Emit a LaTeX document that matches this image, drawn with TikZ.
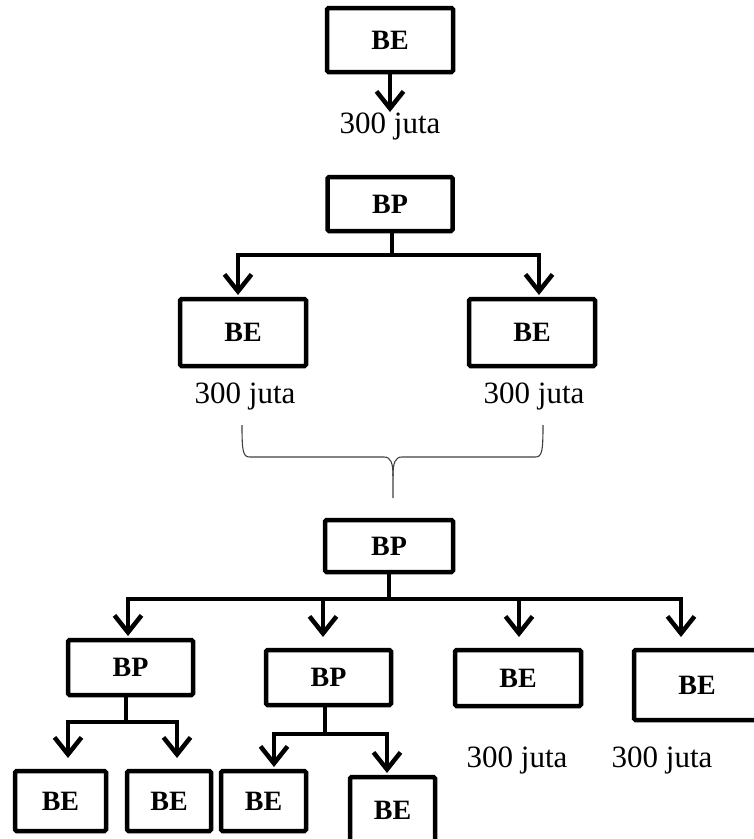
\documentclass[tikz,border=0pt]{standalone}
\usepackage{fontspec}
\setmainfont{Liberation Serif}
\usetikzlibrary{arrows.meta}
\begin{document}
\begin{tikzpicture}[x=1pt,y=-1pt,
  box/.style={draw=black,line width=4.5pt,rounded corners=1.5pt,inner sep=0pt,
    font=\fontsize{28}{30}\selectfont\bfseries},
  conn/.style={draw=black,line width=4.5pt},
  arr/.style={conn,-{Straight Barb[length=17pt,width=27pt]}},
  amount/.style={anchor=base,inner sep=0pt,font=\fontsize{31}{34}\selectfont},
  brace/.style={draw=black!75,line width=1.1pt}]
\useasboundingbox (0,0) rectangle (754,839);
\clip (0,0) rectangle (754,839);
% --- top
\node[box,minimum width=126pt,minimum height=64pt] (be0) at (390,40) {BE};
\coordinate (t0) at (390,112);
\draw[arr] (be0.south) -- (t0);
\node[amount] (a0) at (390,133) {300 juta};
% --- middle
\node[box,minimum width=125pt,minimum height=54pt] (bp1) at (390,204) {BP};
\node[box,minimum width=126pt,minimum height=67pt] (be1) at (243,332.5) {BE};
\node[box,minimum width=126pt,minimum height=67pt] (be2) at (532,332.5) {BE};
\coordinate (j1) at (392,255);
\coordinate (t1) at (238,295);
\coordinate (t2) at (539,295);
\draw[conn] (bp1.south -| j1) -- (j1);
\draw[arr] (j1) -| (t1);
\draw[arr] (j1) -| (t2);
\node[amount] (a1) at (245,403) {300 juta};
\node[amount] (a2) at (534,403) {300 juta};
% --- brace
\draw[brace] (242,425) .. controls (242,452) and (243,457) .. (250,457) -- (384,457)
  .. controls (391,457) and (393,463) .. (393,476) -- (393,498);
\draw[brace] (543,425) .. controls (543,452) and (542,457) .. (535,457) -- (402,457)
  .. controls (395,457) and (393,463) .. (393,476);
% --- bottom
\node[box,minimum width=128pt,minimum height=52pt] (bp2) at (389,546) {BP};
\node[box,minimum width=125pt,minimum height=55pt] (bp3) at (130.5,667.5) {BP};
\node[box,minimum width=125pt,minimum height=55pt] (bp4) at (328.5,677.5) {BP};
\node[box,minimum width=126pt,minimum height=56pt] (be3) at (518,678) {BE};
\node[box,minimum width=126pt,minimum height=70pt] (be4) at (697,685) {BE};
\coordinate (j2) at (389,599);
\coordinate (t3) at (128,636);
\coordinate (t4) at (323,637);
\coordinate (t5) at (519,637);
\coordinate (t6) at (681,637);
\draw[conn] (bp2.south -| j2) -- (j2);
\draw[arr] (j2) -| (t3);
\draw[arr] (j2) -| (t4);
\draw[arr] (j2) -| (t5);
\draw[arr] (j2) -| (t6);
\node[amount] (a3) at (517,767) {300 juta};
\node[amount] (a4) at (662,767) {300 juta};
% --- lowest row
\node[box,minimum width=91pt,minimum height=60pt] (be5) at (60.5,801) {BE};
\node[box,minimum width=84pt,minimum height=60pt] (be6) at (169,801) {BE};
\node[box,minimum width=85pt,minimum height=60pt] (be7) at (263.5,801) {BE};
\node[box,minimum width=85pt,minimum height=66pt] (be8) at (392.5,810) {BE};
\coordinate (j3) at (126,722);
\coordinate (t7) at (68,758);
\coordinate (t8) at (177,758);
\draw[conn] (bp3.south -| j3) -- (j3);
\draw[arr] (j3) -| (t7);
\draw[arr] (j3) -| (t8);
\coordinate (j4) at (325,734);
\coordinate (t9) at (274,767);
\coordinate (t10) at (387,773);
\draw[conn] (bp4.south -| j4) -- (j4);
\draw[arr] (j4) -| (t9);
\draw[arr] (j4) -| (t10);
\end{tikzpicture}
\end{document}
